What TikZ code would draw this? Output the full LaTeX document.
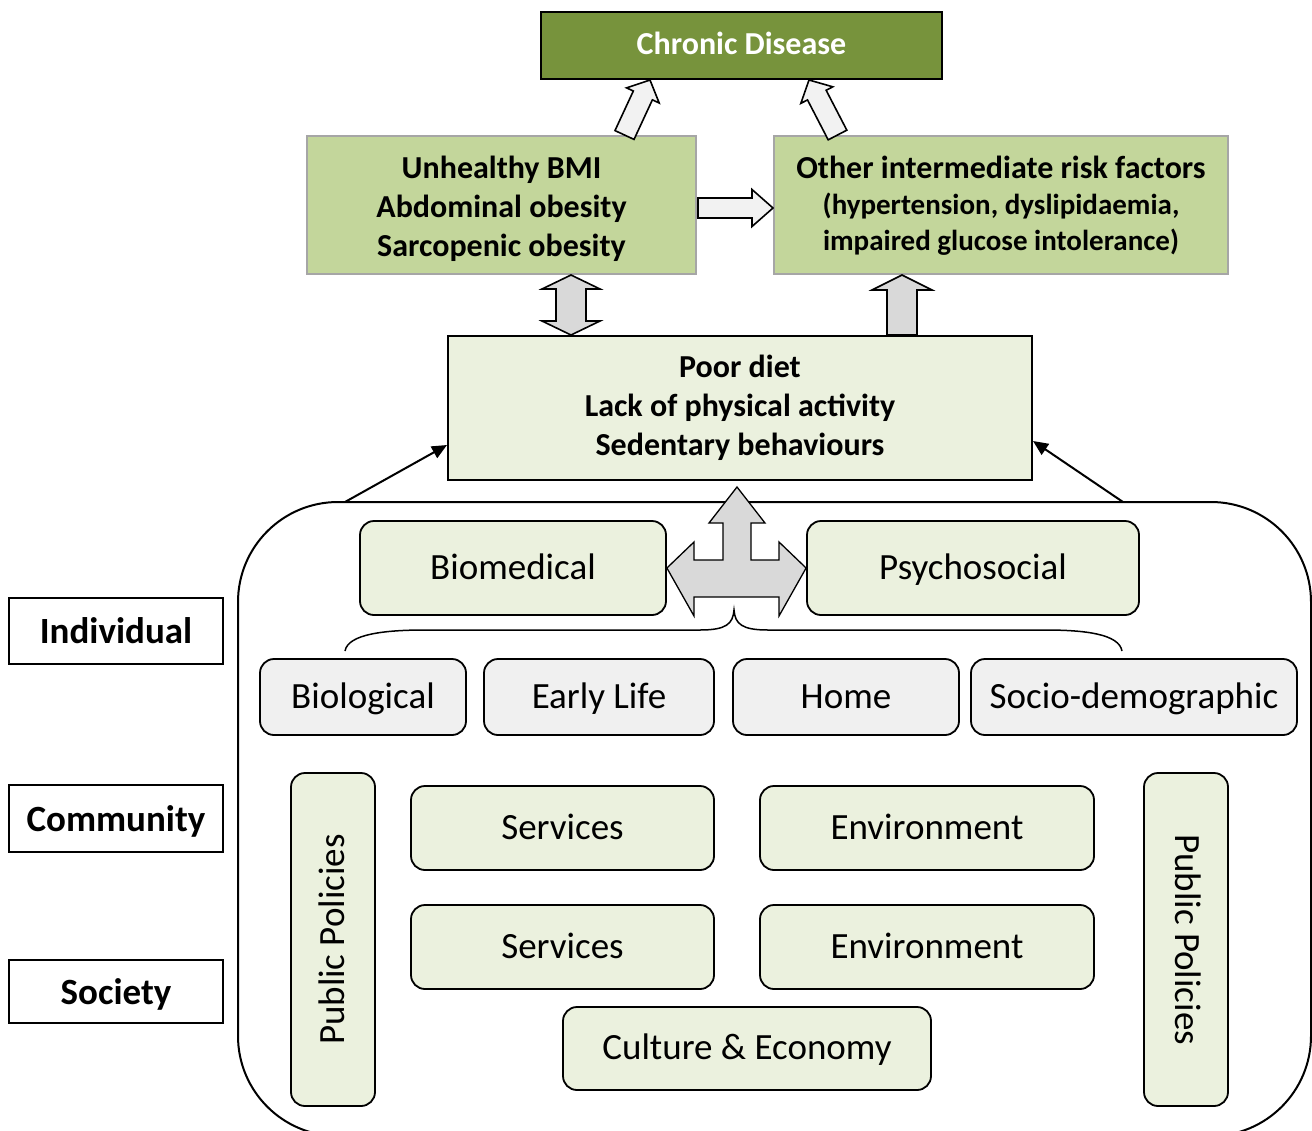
\documentclass[tikz,border=0pt]{standalone}
\usepackage{fontspec}
\setmainfont{Carlito}
\usetikzlibrary{calc,arrows.meta}
\definecolor{dgreen}{HTML}{77933C}
\definecolor{mgreen}{HTML}{C3D69B}
\definecolor{lgreen}{HTML}{EBF1DE}
\definecolor{lgray}{HTML}{F0F0F0}
\definecolor{agray}{HTML}{D9D9D9}
\definecolor{alight}{HTML}{F2F2F2}
\definecolor{bgray}{HTML}{A6A6A6}
\newcommand\fatarrow[6][]{%
  \coordinate (fah) at ($(#3)!#6!(#2)$);
  \draw[#1] ($(#2)!#4!90:(#3)$) -- ($(fah)!#4!90:(#3)$) -- ($(fah)!#5!90:(#3)$) -- (#3)
    -- ($(fah)!#5!-90:(#3)$) -- ($(fah)!#4!-90:(#3)$) -- ($(#2)!#4!-90:(#3)$) -- cycle;}
\newcommand\fatdouble[6][]{%
  \coordinate (fah) at ($(#3)!#6!(#2)$);
  \coordinate (fat) at ($(#2)!#6!(#3)$);
  \draw[#1] (#2) -- ($(fat)!#5!90:(#3)$) -- ($(fat)!#4!90:(#3)$) -- ($(fah)!#4!90:(#3)$)
    -- ($(fah)!#5!90:(#3)$) -- (#3) -- ($(fah)!#5!-90:(#3)$) -- ($(fah)!#4!-90:(#3)$)
    -- ($(fat)!#4!-90:(#3)$) -- ($(fat)!#5!-90:(#3)$) -- cycle;}
\tikzset{
  box/.style={draw, inner sep=2pt, align=center},
  topbox/.style={box, fill=dgreen, line width=2pt, text=white, text height=17pt, text depth=0pt, font=\fontsize{32}{38}\selectfont\bfseries},
  midbox/.style={box, fill=mgreen, draw=bgray, line width=2pt},
  txt/.style={align=center, inner sep=0pt, font=\fontsize{32}{39}\selectfont\bfseries},
  poorbox/.style={box, fill=lgreen, line width=2pt, font=\fontsize{32}{39}\selectfont\bfseries},
  rbox/.style={box, fill=lgreen, rounded corners=14pt, line width=1.8pt, text height=22pt, text depth=0pt, font=\fontsize{37}{44}\selectfont},
  gbox/.style={rbox, fill=lgray},
  lbox/.style={box, fill=white, line width=1.5pt, text height=25pt, text depth=0pt, font=\fontsize{37}{44}\selectfont\bfseries},
  fatlight/.style={fill=alight, draw=black, line width=1.6pt, line join=miter},
  fatgray/.style={fill=agray, draw=black, line width=1.6pt, line join=miter},
  thinarrow/.style={draw=black, line width=2pt, -{Triangle[length=15pt,width=13pt]}}
}
\begin{document}
\begin{tikzpicture}[x=1pt,y=-1pt]
\useasboundingbox (0,0) rectangle (1312,1130);
\clip (0,0) rectangle (1312,1130);

% big container
\draw[line width=2pt, rounded corners=100pt] (238,502) rectangle (1311,1136);

% top boxes
\node[topbox, minimum width=401, minimum height=67] (chronic) at (741.5,45.5) {Chronic Disease};
\node[midbox, minimum width=389, minimum height=138] (bmi) at (501.5,205) {};
\node[txt] (bmitext) at ($(bmi.center)+(0,4)$) {Unhealthy BMI\\Abdominal obesity\\Sarcopenic obesity};
\node[midbox, minimum width=454, minimum height=138] (other) at (1001,205) {};
\node[txt] (othertext) at ($(other.center)+(0,1)$)
  {Other intermediate risk factors\\[-3pt]{\fontsize{29}{36}\selectfont (hypertension, dyslipidaemia,}\\[-3pt]{\fontsize{29}{36}\selectfont impaired glucose intolerance)}};
\node[poorbox, minimum width=584, minimum height=144] (poor) at (740,408)
  {Poor diet\\Lack of physical activity\\Sedentary behaviours};

% individual level
\node[rbox, minimum width=306, minimum height=94] (biomed) at (513,568) {Biomedical};
\node[rbox, minimum width=332, minimum height=94] (psych) at (973,568) {Psychosocial};
\node[gbox, minimum width=206, minimum height=76] (biol) at (363,697) {Biological};
\node[gbox, minimum width=230, minimum height=76] (early) at (599,697) {Early Life};
\node[gbox, minimum width=226, minimum height=76] (home) at (846,697) {Home};
\node[gbox, minimum width=326, minimum height=76] (socio) at (1134,697) {Socio-demographic};

% community / society
\node[rbox, rotate=90, minimum width=333, minimum height=84] (pubL) at (333,939.5) {Public Policies};
\node[rbox, rotate=-90, minimum width=333, minimum height=84] (pubR) at (1186,939.5) {Public Policies};
\node[rbox, minimum width=303, minimum height=84] (serv1) at (562.5,828) {Services};
\node[rbox, minimum width=334, minimum height=84] (env1) at (927,828) {Environment};
\node[rbox, minimum width=303, minimum height=84] (serv2) at (562.5,947) {Services};
\node[rbox, minimum width=334, minimum height=84] (env2) at (927,947) {Environment};
\node[rbox, minimum width=368, minimum height=83] (cult) at (747,1048.5) {Culture \& Economy};

% level labels
\node[lbox, minimum width=214, minimum height=66] (indiv) at (116,631) {Individual};
\node[lbox, minimum width=214, minimum height=67] (comm) at (116,818.5) {Community};
\node[lbox, minimum width=214, minimum height=63] (soc) at (116,991.5) {Society};

% fat arrows
\coordinate (s1) at (624.5,0 |- bmi.north);
\coordinate (e1) at (650,0 |- chronic.south);
\fatarrow[fatlight]{s1}{e1}{10.5pt}{18pt}{17pt}
\coordinate (s2) at (837.5,0 |- other.north);
\coordinate (e2) at (809,0 |- chronic.south);
\fatarrow[fatlight]{s2}{e2}{10.5pt}{18pt}{17pt}
\coordinate (s3) at ($(bmi.east)+(1,3)$);
\coordinate (e3) at (other.west |- s3);
\fatarrow[fatlight]{s3}{e3}{10pt}{18.5pt}{21pt}
\coordinate (s4) at (571,0 |- poor.north);
\coordinate (e4) at (571,0 |- bmi.south);
\fatdouble[fatgray]{s4}{e4}{15pt}{29pt}{14pt}
\coordinate (s5) at (902,0 |- poor.north);
\coordinate (e5) at (902,0 |- other.south);
\fatarrow[fatgray]{s5}{e5}{15pt}{30pt}{15pt}

% tri-directional arrow
\draw[fatgray, line width=1.3pt] (737,487) -- (765,523) -- (751,523) -- (751,560) -- (779,560) -- (779,542)
  -- (psych.west) -- (779,616) -- (779,597) -- (694,597) -- (694,616) -- (biomed.east)
  -- (694,542) -- (694,560) -- (723,560) -- (723,523) -- (709,523) -- cycle;

% brace
\draw[line width=1.5pt] (345,651) .. controls (348,634) and (385,630) .. (425,630) -- (700,630)
  .. controls (726,630) and (733,624) .. (734,610) .. controls (735,624) and (742,630) .. (768,630)
  -- (1045,630) .. controls (1085,630) and (1119,634) .. (1122,651);

% thin arrows into poor diet box
\coordinate (d1) at (345,502);
\coordinate (d2) at (1123,502);
\draw[thinarrow] (d1) -- (poor.west |- 0,445);
\draw[thinarrow] (d2) -- (poor.east |- 0,441);
\end{tikzpicture}
\end{document}
